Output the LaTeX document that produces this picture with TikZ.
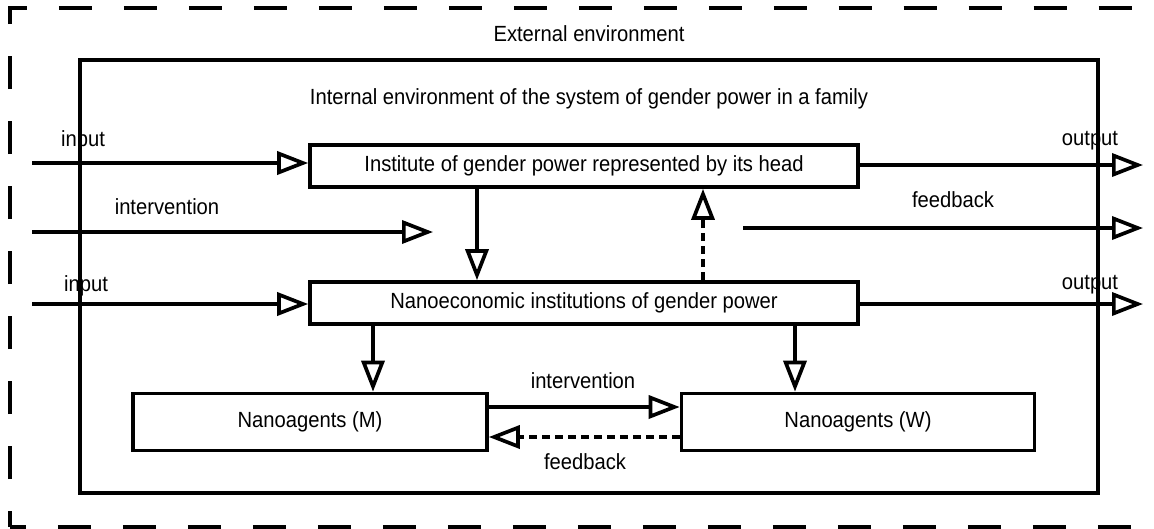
\documentclass[tikz,border=0pt]{standalone}
\usepackage{fontspec}
\setmainfont[FakeStretch=0.92]{Liberation Sans}
\usetikzlibrary{arrows.meta}

\begin{document}
\begin{tikzpicture}
  [
    x=0.02cm, y=-0.02cm,
    % styles for boxes, labels and arrows
    box/.style={rectangle, draw, line width=2.1pt, inner sep=0pt, font=\fontsize{12.5}{15}\selectfont},
    lbl/.style={inner sep=0pt, font=\fontsize{12.5}{15}\selectfont},
    flow/.style={line width=2.1pt, -{Triangle[open, length=0.62cm, width=0.46cm, line width=2.1pt]}},
    back/.style={flow, dash pattern=on 0.16cm off 0.1cm},
    outer/.style={line width=2.3pt, dash pattern=on 0.66cm off 0.64cm, dash phase=0.34cm}
  ]
  \useasboundingbox (0,0) rectangle (1154,528);
  % external environment
  \begin{scope}
    \clip (0,0) rectangle (1154,528);
    \draw[outer] (10,527) -- (10,8) -- (1200,8);
    \draw[outer] (10,527) -- (1200,527);
  \end{scope}
  \node[lbl] (ext) at (589,34) {External environment};
  % internal environment
  \draw[line width=2.1pt] (80,60) rectangle (1098,493);
  \node[lbl] (int) at (589,99) {Internal environment of the system of gender power in a family};

  \node[box, minimum width=10.96cm, minimum height=0.84cm] (head) at (584,166) {Institute of gender power represented by its head};
  \node[box, minimum width=10.96cm, minimum height=0.84cm] (nano) at (584,303) {Nanoeconomic institutions of gender power};
  \node[box, minimum width=7.08cm, minimum height=1.14cm] (agm) at (310,422) {Nanoagents (M)};
  \node[box, minimum width=7.06cm, minimum height=1.14cm] (agw) at (858,422) {Nanoagents (W)};

  \coordinate (in1) at (32,163);
  \coordinate (in2) at (32,304);
  \coordinate (iv1) at (32,232);
  \coordinate (iv2) at (433,232);
  \coordinate (out1) at (1143,165);
  \coordinate (out2) at (1143,304);
  \coordinate (fb1) at (743,228);
  \coordinate (fb2) at (1143,228);

  \draw[flow] (in1) -- (head.west |- in1);
  \draw[flow] (in2) -- (nano.west |- in2);
  \draw[flow] (iv1) -- (iv2);
  \draw[flow] (head.east |- out1) -- (out1);
  \draw[flow] (nano.east |- out2) -- (out2);
  \draw[flow] (fb1) -- (fb2);

  \draw[flow] (head.south -| 477,0) -- (nano.north -| 477,0);
  \draw[back] (nano.north -| 703,0) -- (head.south -| 703,0);
  \draw[flow] (nano.south -| 373,0) -- (agm.north -| 373,0);
  \draw[flow] (nano.south -| 795,0) -- (agw.north -| 795,0);

  \draw[flow] (agm.east |- 0,407) -- (agw.west |- 0,407);
  \draw[back] (agw.west |- 0,437) -- (agm.east |- 0,437);

  \node[lbl] (lin1) at (83,141) {input};
  \node[lbl] (lin2) at (86,286) {input};
  \node[lbl] (liv1) at (167,207) {intervention};
  \node[lbl] (lout1) at (1090,141) {output};
  \node[lbl] (lout2) at (1090,285) {output};
  \node[lbl] (lfb1) at (953,200) {feedback};
  \node[lbl] (liv2) at (583,381) {intervention};
  \node[lbl] (lfb2) at (585,462) {feedback};

\end{tikzpicture}
\end{document}
